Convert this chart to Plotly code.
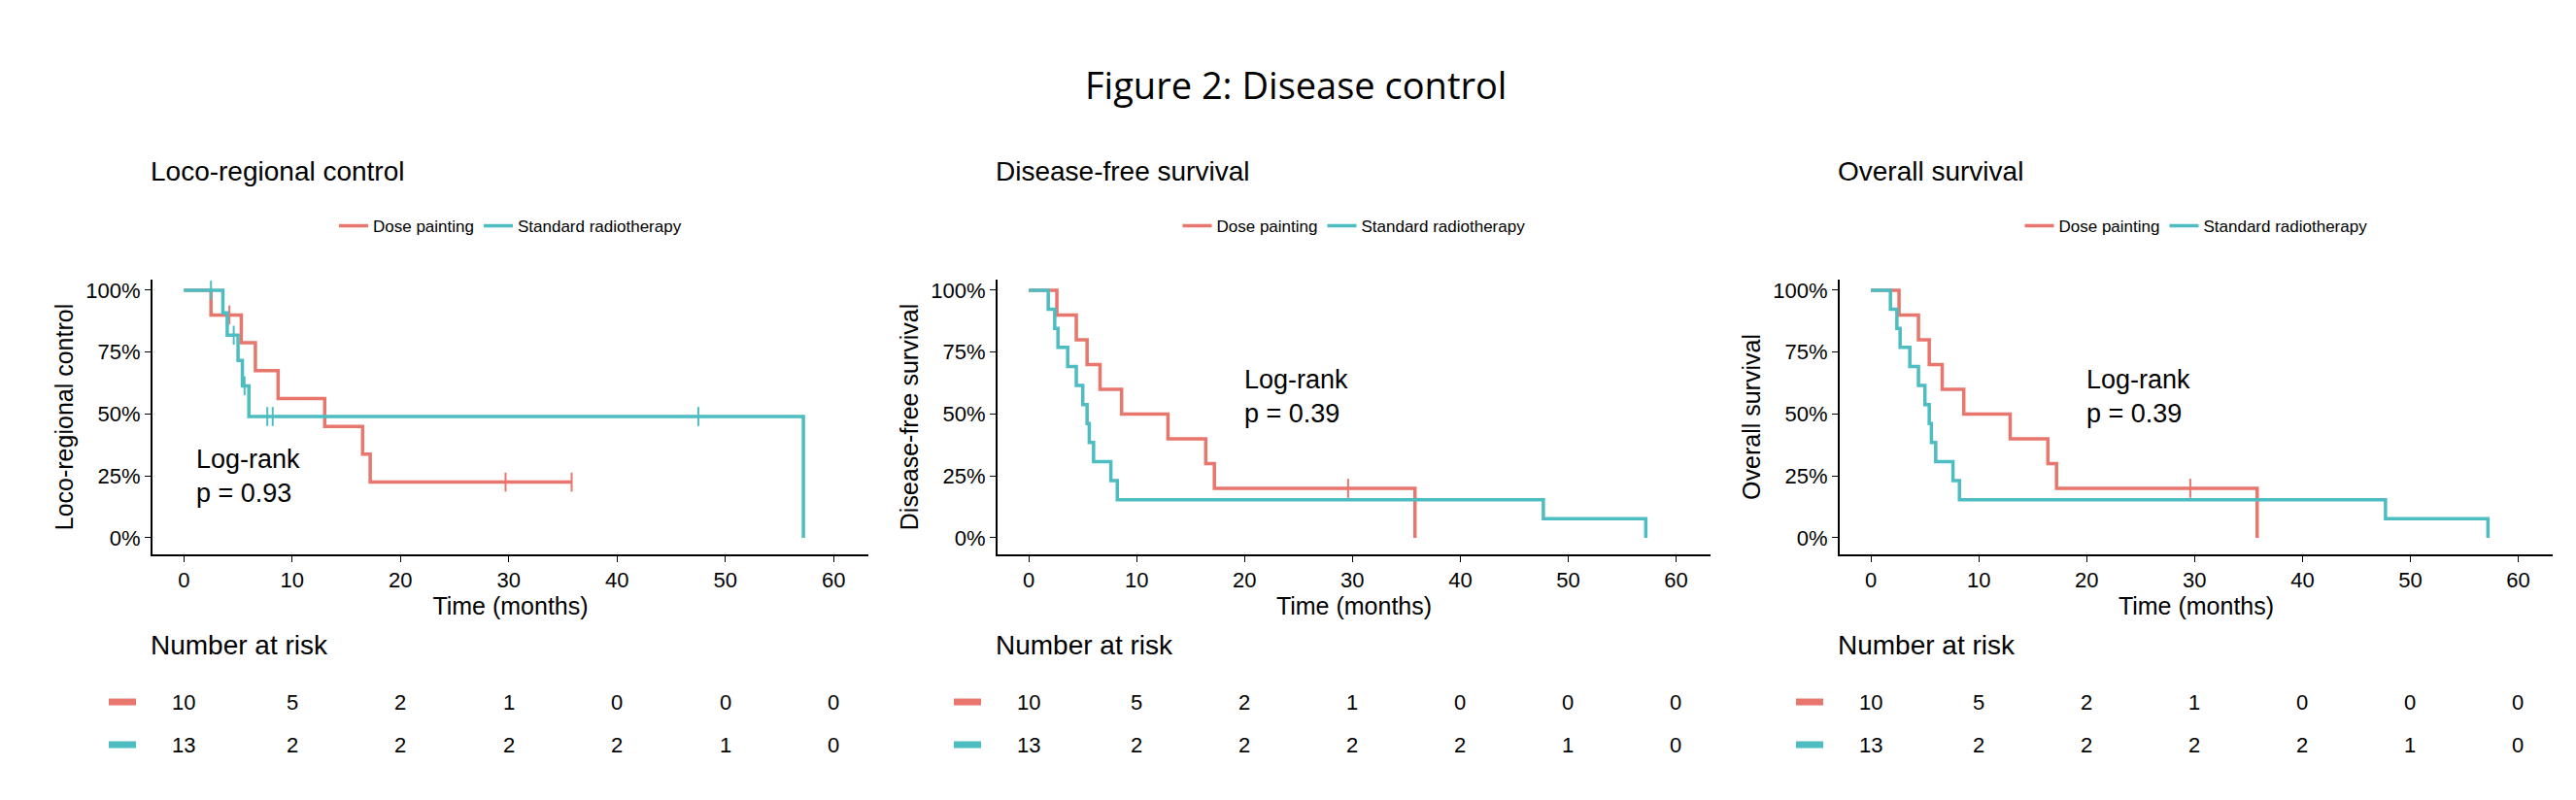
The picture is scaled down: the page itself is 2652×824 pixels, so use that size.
import plotly.graph_objects as go

RED = '#E8766D'
TEAL = '#4DBDC1'

# ---- survival step data (time, probability) ----
lrc_dose_t = [0, 2.5, 5.3, 6.6, 8.7, 13.0, 16.5, 17.2, 35.8]
lrc_dose_s = [1.0, 0.9, 0.788, 0.675, 0.5625, 0.45, 0.3375, 0.225, 0.225]
lrc_dose_cens_t = [4.2, 29.7, 35.8]
lrc_dose_cens_s = [0.9, 0.225, 0.225]
lrc_std_t = [0, 3.6, 4.0, 5.0, 5.4, 6.0, 57.2, 57.2]
lrc_std_s = [1.0, 0.909, 0.818, 0.716, 0.614, 0.49, 0.49, 0.0]
lrc_std_cens_t = [2.5, 4.6, 5.6, 7.7, 8.2, 47.5]
lrc_std_cens_s = [1.0, 0.818, 0.614, 0.49, 0.49, 0.49]

dfs_dose_t = [0, 2.6, 4.4, 5.4, 6.6, 8.6, 12.9, 16.4, 17.2, 35.8, 35.8]
dfs_dose_s = [1.0, 0.9, 0.8, 0.7, 0.6, 0.5, 0.4, 0.3, 0.2, 0.2, 0.0]
dfs_dose_cens_t = [29.6]
dfs_dose_cens_s = [0.2]
dfs_std_t = [0, 1.8, 2.4, 2.7, 3.6, 4.4, 5.0, 5.4, 5.6, 6.0, 7.6, 8.2, 47.7, 57.2, 57.2]
dfs_std_s = [1.0, 0.923, 0.846, 0.769, 0.692, 0.615, 0.538, 0.462, 0.385, 0.308, 0.231,
             0.154, 0.077, 0.077, 0.0]

risk_times = [0, 10, 20, 30, 40, 50, 60]
risk_dose = [10, 5, 2, 1, 0, 0, 0]
risk_std = [13, 2, 2, 2, 2, 1, 0]

panels = [
    dict(title='Loco-regional control', ylab='Loco-regional control', p='p = 0.93', px=1.0, py=0.25,
         dose=(lrc_dose_t, lrc_dose_s, lrc_dose_cens_t, lrc_dose_cens_s),
         std=(lrc_std_t, lrc_std_s, lrc_std_cens_t, lrc_std_cens_s)),
    dict(title='Disease-free survival', ylab='Disease-free survival', p='p = 0.39', px=19.8, py=0.57,
         dose=(dfs_dose_t, dfs_dose_s, dfs_dose_cens_t, dfs_dose_cens_s),
         std=(dfs_std_t, dfs_std_s, [], [])),
    dict(title='Overall survival', ylab='Overall survival', p='p = 0.39', px=19.8, py=0.57,
         dose=(dfs_dose_t, dfs_dose_s, dfs_dose_cens_t, dfs_dose_cens_s),
         std=(dfs_std_t, dfs_std_s, [], [])),
]

W, H = 2652, 824
x_px = [(149, 886), (1019, 1753), (1886, 2620)]
FONT = 'Liberation Sans, Arial'

fig = go.Figure()
annotations = []
shapes = []

for i, p in enumerate(panels):
    k = '' if i == 0 else str(i + 1)
    xa, ya = 'x' + k, 'y' + k
    lg = 'legend' + k
    for name, col, data in [('Dose painting', RED, p['dose']), ('Standard radiotherapy', TEAL, p['std'])]:
        t, s, ct, cs = data
        fig.add_trace(go.Scatter(x=t, y=s, mode='lines', line=dict(color=col, width=3.5, shape='hv'),
                                 name=name, legend=lg, xaxis=xa, yaxis=ya, showlegend=True))
        if ct:
            fig.add_trace(go.Scatter(x=ct, y=cs, mode='markers', showlegend=False, xaxis=xa, yaxis=ya,
                                     marker=dict(symbol='line-ns', size=14, line=dict(color=col, width=2))))
    x0, x1 = x_px[i][0] / W, x_px[i][1] / W
    fig.layout['xaxis' + k] = dict(domain=[x0, x1], range=[-2.9, 63.2], anchor=ya,
                                   tickvals=risk_times, showline=True, linecolor='black', linewidth=2,
                                   ticks='outside', ticklen=6, tickcolor='black', showgrid=False, zeroline=False,
                                   title=dict(text='Time (months)', font=dict(size=25), standoff=0),
                                   tickfont=dict(size=22))
    fig.layout['yaxis' + k] = dict(domain=[1 - 563 / H, 1 - 280 / H], range=[-0.067, 1.043], anchor=xa,
                                   tickvals=[0, 0.25, 0.5, 0.75, 1.0],
                                   ticktext=['0%', '25%', '50%', '75%', '100%'],
                                   showline=True, linecolor='black', linewidth=2, ticks='outside',
                                   ticklen=6, tickcolor='black', showgrid=False, zeroline=False,
                                   title=dict(text=p['ylab'], font=dict(size=25), standoff=6),
                                   tickfont=dict(size=22))
    fig.layout[lg] = dict(orientation='h', x=(x0 + x1) / 2, xanchor='center', y=1 - 225 / H, yanchor='middle',
                          font=dict(size=17), bgcolor='rgba(0,0,0,0)')
    annotations.append(dict(text=p['title'], x=x0 - 4 / W, xref='paper', y=1 - 169 / H, yref='paper',
                            xanchor='left', yanchor='middle', showarrow=False, font=dict(size=28)))
    annotations.append(dict(text='Log-rank<br>' + p['p'], x=p['px'], y=p['py'], xref=xa, yref=ya,
                            xanchor='left', yanchor='middle', align='left', showarrow=False,
                            font=dict(size=27)))
    annotations.append(dict(text='Number at risk', x=x0 - 4 / W, xref='paper', y=1 - 656 / H, yref='paper',
                            xanchor='left', yanchor='middle', showarrow=False, font=dict(size=28)))
    for row_y, vals, col in [(715, risk_dose, RED), (759, risk_std, TEAL)]:
        for t, v in zip(risk_times, vals):
            annotations.append(dict(text=str(v), x=t, xref=xa, y=1 - row_y / H, yref='paper',
                                    yanchor='middle', showarrow=False, font=dict(size=22)))
        shapes.append(dict(type='line', xref='paper', yref='paper', x0=(x_px[i][0] - 45) / W,
                           x1=(x_px[i][0] - 17) / W, y0=1 - row_y / H, y1=1 - row_y / H,
                           line=dict(color=col, width=7)))

annotations.append(dict(text='Figure 2: Disease control', x=0.5, xref='paper', y=1 - 51 / H, yref='paper',
                        showarrow=False, font=dict(size=38, family='Open Sans, Liberation Sans')))

fig.update_layout(width=W, height=H, margin=dict(l=0, r=0, t=0, b=0),
                  plot_bgcolor='white', paper_bgcolor='white',
                  font=dict(family=FONT, color='black'),
                  annotations=annotations, shapes=shapes)

fig.write_html('out.html')
